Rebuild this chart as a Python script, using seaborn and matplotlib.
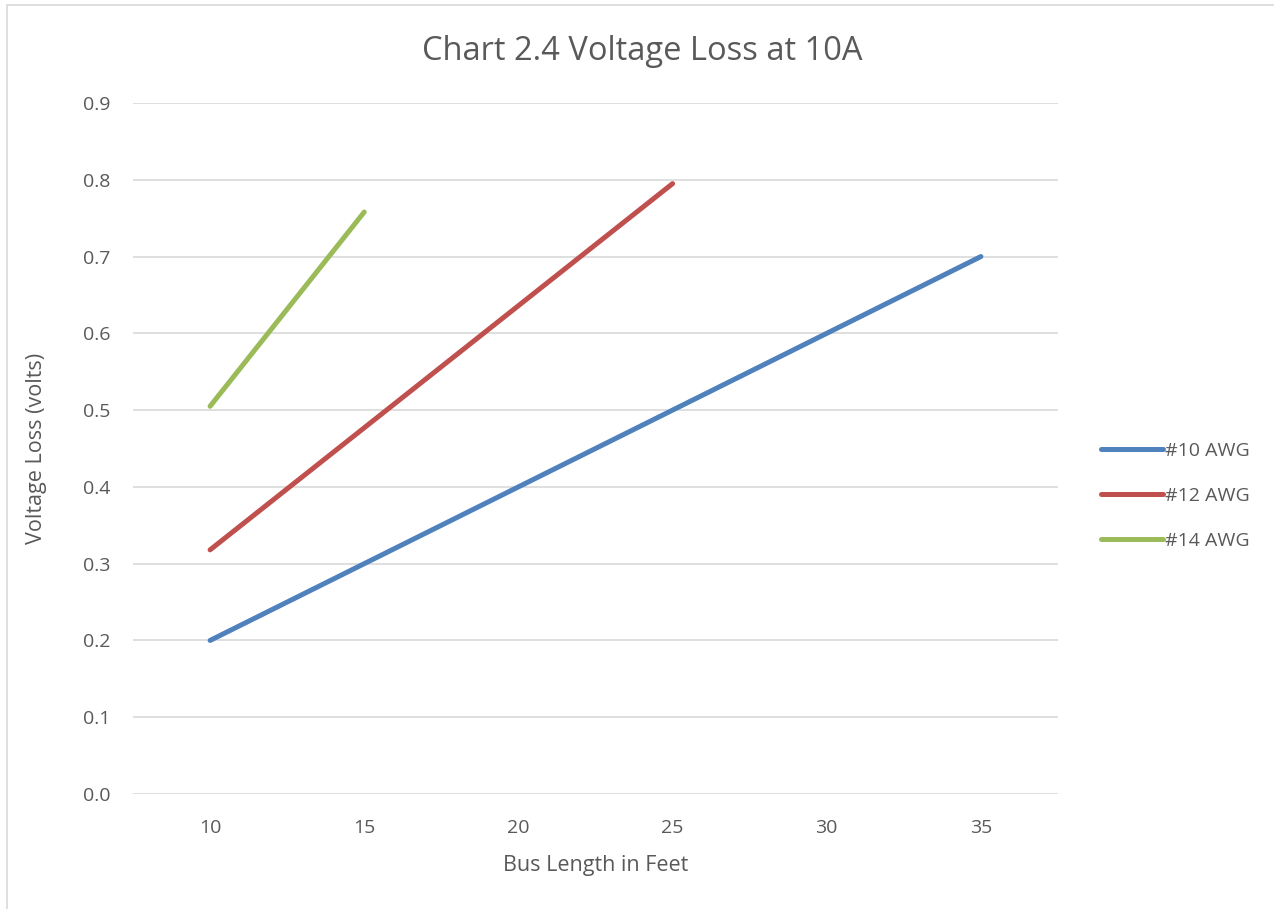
import matplotlib
matplotlib.use("Agg")
import matplotlib.pyplot as plt
import seaborn as sns
import pandas as pd
from matplotlib.patches import Rectangle

lengths = [10, 15, 20, 25, 30, 35]
awg10 = [0.2, 0.3, 0.4, 0.5, 0.6, 0.7]
awg12 = [0.318, 0.477, 0.636, 0.795]
awg14 = [0.505, 0.758]
series_names = ["#10 AWG", "#12 AWG", "#14 AWG"]
colors = ["#4F81BD", "#C0504D", "#9BBB59"]
y_ticks = [0.0, 0.1, 0.2, 0.3, 0.4, 0.5, 0.6, 0.7, 0.8, 0.9]

rows = []
for name, vals in zip(series_names, [awg10, awg12, awg14]):
    for i, v in enumerate(vals):
        rows.append({"pos": i, "length": lengths[i], "value": v, "series": name})
df = pd.DataFrame(rows)

sns.set_theme(style="white")
plt.rcParams['font.family'] = ['Open Sans', 'DejaVu Sans']

fig = plt.figure(figsize=(12.74, 9.09), dpi=100)
ax = fig.add_axes([133/1274, 1-794/909, (1058-133)/1274, (794-103)/909])

lw = 3.6
sns.lineplot(data=df, x="pos", y="value", hue="series", palette=colors,
             linewidth=lw, ax=ax, legend=True, solid_capstyle="round")

ax.set_xlim(-0.5, 5.5)
ax.set_ylim(0, 0.9)
ax.set_xticks(range(len(lengths)))
ax.set_xticklabels([str(l) for l in lengths])
ax.set_yticks(y_ticks)
ax.set_yticklabels([f"{t:.1f}" for t in y_ticks])
ax.yaxis.grid(True, color="#D9D9D9", linewidth=1.2)
ax.xaxis.grid(False)
ax.set_axisbelow(True)
for s in ax.spines.values():
    s.set_visible(False)
ax.tick_params(axis="both", length=0, labelsize=14, colors="#595959")
ax.tick_params(axis="x", pad=18)
ax.tick_params(axis="y", pad=16)
ax.set_xlabel("Bus Length in Feet", fontsize=15.5, color="#595959", labelpad=13)
ax.set_ylabel("Voltage Loss (volts)", fontsize=15.5, color="#595959", labelpad=26)
fig.text(642/1274, 1-51/909, "Chart 2.4 Voltage Loss at 10A", fontsize=23.5,
         color="#595959", ha="center", va="center")

handles, labels = ax.get_legend_handles_labels()
if ax.get_legend():
    ax.get_legend().remove()
leg = fig.legend(handles, labels, loc="center left", bbox_to_anchor=(1083/1274, 1-496/909),
                 frameon=False, fontsize=14, handlelength=3.2, handletextpad=0.1,
                 labelspacing=1.4, labelcolor="#595959")
for line in leg.get_lines():
    line.set_linewidth(lw)
    line.set_solid_capstyle("round")

fig.patches.append(Rectangle((7/1274, -0.05), 1.2, 1-5/909+0.05, transform=fig.transFigure,
                             fill=False, edgecolor="#D9D9D9", linewidth=1.2))

fig.savefig("out.png", dpi=100)
